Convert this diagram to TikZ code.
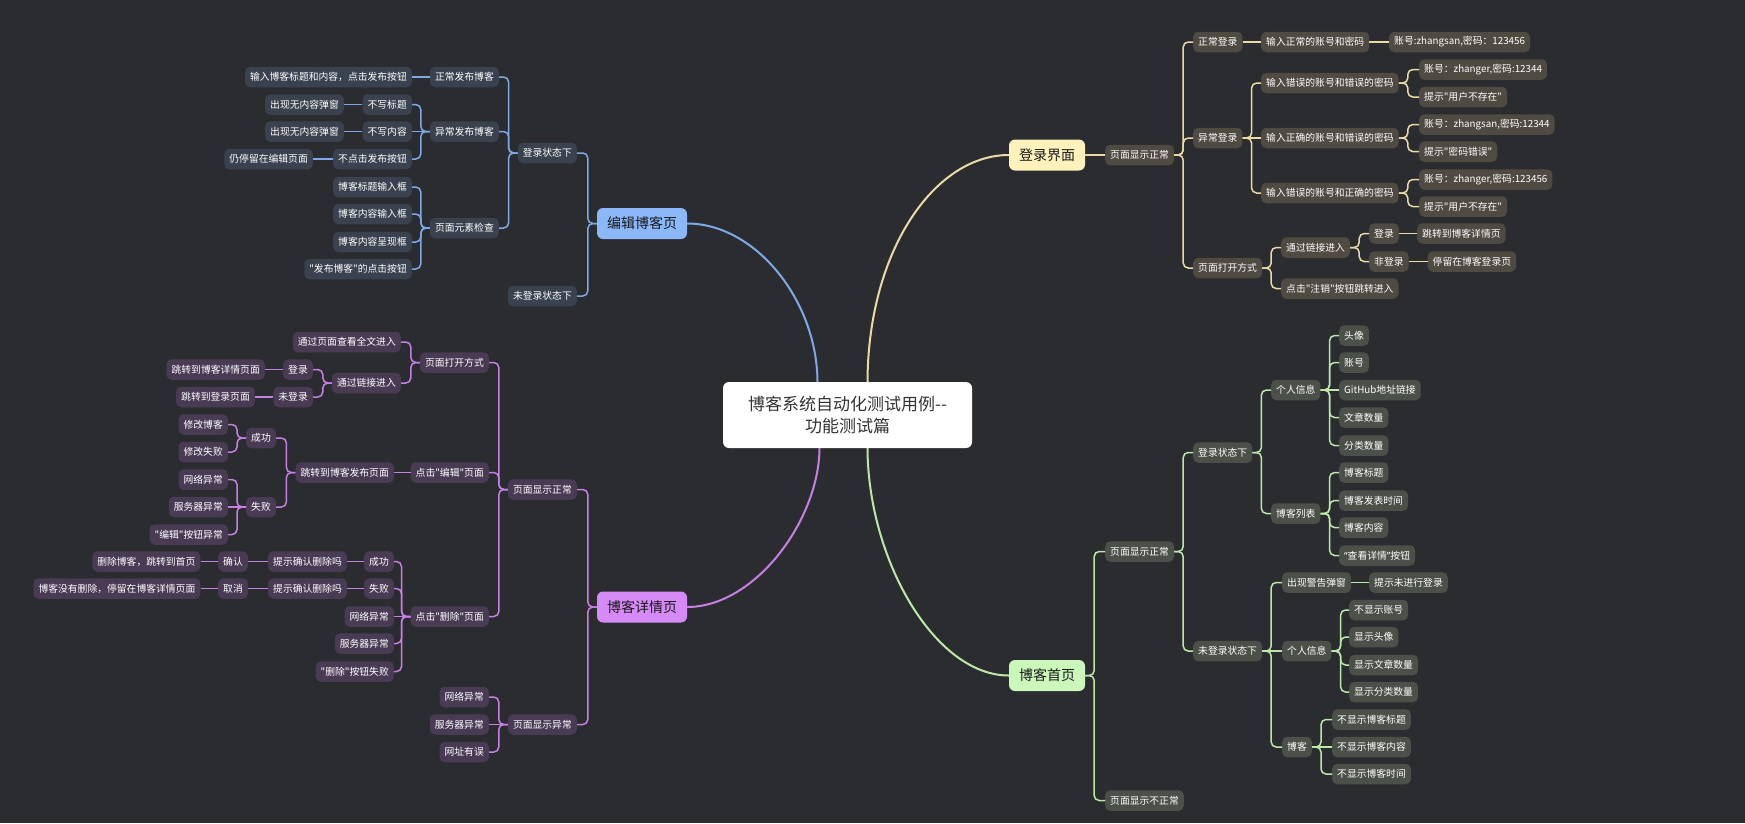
\documentclass[tikz,border=0pt]{standalone}
\usepackage{fontspec}
\setmainfont{Noto Sans CJK SC}[Ligatures=TeXOff]
\newfontfamily\quotefont{Noto Sans}[Ligatures=TeXOff]
\usepackage{xcolor}
\usetikzlibrary{positioning, calc}

\definecolor{bgc}{HTML}{2B2C30}
\definecolor{eMainC}{HTML}{8AB8F8}
\definecolor{eSubC}{HTML}{3A4250}
\definecolor{eLineC}{HTML}{7DA9E8}
\definecolor{lMainC}{HTML}{FFF1BC}
\definecolor{lSubC}{HTML}{4F4A42}
\definecolor{lLineC}{HTML}{EADBA6}
\definecolor{dMainC}{HTML}{D68AF5}
\definecolor{dSubC}{HTML}{4A3B55}
\definecolor{dLineC}{HTML}{C77FE6}
\definecolor{hMainC}{HTML}{CCF7BA}
\definecolor{hSubC}{HTML}{4B5148}
\definecolor{hLineC}{HTML}{BCE8A8}

\begin{document}
\begin{tikzpicture}[x=1pt, y=-1pt,
      root/.style={fill=white, rounded corners=6pt, align=center, text=black!80, font=\fontsize{17}{22}\selectfont, minimum width=249pt, minimum height=66pt},
      main/.style={rounded corners=6pt, text=black!90, font=\fontsize{14}{16}\selectfont, inner xsep=10pt, minimum height=31pt},
      sub/.style={rounded corners=5pt, text=white, font=\fontsize{9.8}{11}\selectfont, inner xsep=5pt, inner ysep=0pt, minimum height=20.5pt},
      esub/.style={sub, fill=eSubC}, lsub/.style={sub, fill=lSubC},
      dsub/.style={sub, fill=dSubC}, hsub/.style={sub, fill=hSubC},
      link/.style={line width=1.5pt, rounded corners=5pt},
      trunk/.style={line width=2pt}
    ]
      \useasboundingbox[fill=bgc] (0,0) rectangle (1745,823);

      \node[root] (root) at (847.5,415) {博客系统自动化测试用例--\\功能测试篇};

      % edit page
      \node[main, fill=eMainC] (eMain) at (642,223.5) {编辑博客页};
      \node[esub, anchor=east] (eIn) at (577,153) {登录状态下};
      \node[esub, anchor=east] (eOut) at (577,296) {未登录状态下};
      \node[esub, anchor=east] (eNorm) at (499,77) {正常发布博客};
      \node[esub, anchor=east] (eAbn) at (499,131.5) {异常发布博客};
      \node[esub, anchor=east] (eChk) at (499,228) {页面元素检查};
      \node[esub, anchor=east] (eNormA) at (412,77) {输入博客标题和内容，点击发布按钮};
      \node[esub, anchor=east] (eNoT) at (412,104.5) {不写标题};
      \node[esub, anchor=east] (eNoC) at (412,131.5) {不写内容};
      \node[esub, anchor=east] (eNoP) at (412,159) {不点击发布按钮};
      \node[esub, anchor=east] (eNoTA) at (344,104.5) {出现无内容弹窗};
      \node[esub, anchor=east] (eNoCA) at (344,131.5) {出现无内容弹窗};
      \node[esub, anchor=east] (eNoPA) at (313,159) {仍停留在编辑页面};
      \node[esub, anchor=east] (eBox1) at (412,187) {博客标题输入框};
      \node[esub, anchor=east] (eBox2) at (412,214) {博客内容输入框};
      \node[esub, anchor=east] (eBox3) at (412,242) {博客内容呈现框};
      \node[esub, anchor=east] (eBox4) at (412,269) {"发布博客"的点击按钮};

      % login page
      \node[main, fill=lMainC] (lMain) at (1047,155) {登录界面};
      \node[lsub, anchor=west] (lShow) at (1105,155) {页面显示正常};
      \node[lsub, anchor=west] (lNorm) at (1193,42) {正常登录};
      \node[lsub, anchor=west] (lAbn) at (1193,138) {异常登录};
      \node[lsub, anchor=west] (lOpen) at (1193,268) {页面打开方式};
      \node[lsub, anchor=west] (lNormA) at (1261,42) {输入正常的账号和密码};
      \node[lsub, anchor=west] (lNormB) at (1389,42) {账号:zhangsan,密码：123456};
      \node[lsub, anchor=west] (lAbn1) at (1261,83) {输入错误的账号和错误的密码};
      \node[lsub, anchor=west] (lAbn2) at (1261,138) {输入正确的账号和错误的密码};
      \node[lsub, anchor=west] (lAbn3) at (1261,193) {输入错误的账号和正确的密码};
      \node[lsub, anchor=west] (lAbn1a) at (1419,69.5) {账号：zhanger,密码:12344};
      \node[lsub, anchor=west] (lAbn1b) at (1419,97) {提示"用户不存在"};
      \node[lsub, anchor=west] (lAbn2a) at (1419,124.5) {账号：zhangsan,密码:12344};
      \node[lsub, anchor=west] (lAbn2b) at (1419,151.5) {提示"密码错误"};
      \node[lsub, anchor=west] (lAbn3a) at (1419,179.5) {账号：zhanger,密码:123456};
      \node[lsub, anchor=west] (lAbn3b) at (1419,206.5) {提示"用户不存在"};
      \node[lsub, anchor=west] (lLink) at (1281,247.5) {通过链接进入};
      \node[lsub, anchor=west] (lQuit) at (1281,288.5) {点击"注销"按钮跳转进入};
      \node[lsub, anchor=west] (lLinkIn) at (1369,233.5) {登录};
      \node[lsub, anchor=west] (lLinkOut) at (1369,261.5) {非登录};
      \node[lsub, anchor=west] (lLinkInA) at (1417,233.5) {跳转到博客详情页};
      \node[lsub, anchor=west] (lLinkOutA) at (1427.5,261.5) {停留在博客登录页};

      % detail page
      \node[main, fill=dMainC] (dMain) at (642,607) {博客详情页};
      \node[dsub, anchor=east] (dShow) at (577,489.5) {页面显示正常};
      \node[dsub, anchor=east] (dErr) at (577,724.5) {页面显示异常};
      \node[dsub, anchor=east] (dOpen) at (489,362.5) {页面打开方式};
      \node[dsub, anchor=east] (dEdit) at (489,472.5) {点击"编辑"页面};
      \node[dsub, anchor=east] (dDel) at (489,616.5) {点击"删除"页面};
      \node[dsub, anchor=east] (dFull) at (401,342) {通过页面查看全文进入};
      \node[dsub, anchor=east] (dLink) at (401,383) {通过链接进入};
      \node[dsub, anchor=east] (dLinkIn) at (313,369.5) {登录};
      \node[dsub, anchor=east] (dLinkOut) at (313,397) {未登录};
      \node[dsub, anchor=east] (dLinkInA) at (265,369.5) {跳转到博客详情页面};
      \node[dsub, anchor=east] (dLinkOutA) at (255,397) {跳转到登录页面};
      \node[dsub, anchor=east] (dGo) at (394,472.5) {跳转到博客发布页面};
      \node[dsub, anchor=east] (dGoOk) at (276,438) {成功};
      \node[dsub, anchor=east] (dGoNo) at (276,507) {失败};
      \node[dsub, anchor=east] (dGoOk1) at (228,424.5) {修改博客};
      \node[dsub, anchor=east] (dGoOk2) at (228,452) {修改失败};
      \node[dsub, anchor=east] (dGoNo1) at (228,479.5) {网络异常};
      \node[dsub, anchor=east] (dGoNo2) at (228,507) {服务器异常};
      \node[dsub, anchor=east] (dGoNo3) at (228,534.5) {"编辑"按钮异常};
      \node[dsub, anchor=east] (dDelOk) at (394,561.5) {成功};
      \node[dsub, anchor=east] (dDelNo) at (394,588.5) {失败};
      \node[dsub, anchor=east] (dDelNet) at (394,616.5) {网络异常};
      \node[dsub, anchor=east] (dDelSrv) at (394,643.5) {服务器异常};
      \node[dsub, anchor=east] (dDelBtn) at (394,671.5) {"删除"按钮失败};
      \node[dsub, anchor=east] (dDelOkA) at (347,561.5) {提示确认删除吗};
      \node[dsub, anchor=east] (dDelNoA) at (347,588.5) {提示确认删除吗};
      \node[dsub, anchor=east] (dDelOkB) at (248,561.5) {确认};
      \node[dsub, anchor=east] (dDelNoB) at (248,588.5) {取消};
      \node[dsub, anchor=east] (dDelOkC) at (200.5,561.5) {删除博客，跳转到首页};
      \node[dsub, anchor=east] (dDelNoC) at (200.5,588.5) {博客没有删除，停留在博客详情页面};
      \node[dsub, anchor=east] (dErr1) at (489,697) {网络异常};
      \node[dsub, anchor=east] (dErr2) at (489,724.5) {服务器异常};
      \node[dsub, anchor=east] (dErr3) at (489,752) {网址有误};

      % home page
      \node[main, fill=hMainC] (hMain) at (1047,675.5) {博客首页};
      \node[hsub, anchor=west] (hShow) at (1105,551.5) {页面显示正常};
      \node[hsub, anchor=west] (hBad) at (1105,800.5) {页面显示不正常};
      \node[hsub, anchor=west] (hIn) at (1193,452.5) {登录状态下};
      \node[hsub, anchor=west] (hOut) at (1193,651) {未登录状态下};
      \node[hsub, anchor=west] (hInfo) at (1271,390) {个人信息};
      \node[hsub, anchor=west] (hList) at (1271,513.5) {博客列表};
      \foreach \t/\y [count=\i] in {头像/335.5, 账号/362.5, GitHub地址链接/390, 文章数量/417.5, 分类数量/445.5}
        \node[hsub, anchor=west] (hInfo\i) at (1339,\y) {\t};
      \foreach \t/\y [count=\i] in {博客标题/472.5, 博客发表时间/500.5, 博客内容/527.5, {{\quotefont “}查看详情{\quotefont ”}按钮}/555.5}
        \node[hsub, anchor=west] (hList\i) at (1339,\y) {\t};
      \node[hsub, anchor=west] (hWarn) at (1282,582.5) {出现警告弹窗};
      \node[hsub, anchor=west] (hWarnA) at (1369,582.5) {提示未进行登录};
      \node[hsub, anchor=west] (hOInfo) at (1282,651) {个人信息};
      \foreach \t/\y [count=\i] in {不显示账号/610, 显示头像/637, 显示文章数量/665, 显示分类数量/692}
        \node[hsub, anchor=west] (hOInfo\i) at (1349,\y) {\t};
      \node[hsub, anchor=west] (hOBlog) at (1282,747) {博客};
      \foreach \t/\y [count=\i] in {不显示博客标题/719.5, 不显示博客内容/747, 不显示博客时间/774}
        \node[hsub, anchor=west] (hOBlog\i) at (1332,\y) {\t};

      % root curves
      \draw[trunk, eLineC] (eMain.east) .. controls (755,223.5) and (817,300) .. ([xshift=-30pt]root.north);
      \draw[trunk, lLineC] (lMain.west) .. controls (935,155) and (868,250) .. ([xshift=20pt]root.north);
      \draw[trunk, dLineC] (dMain.east) .. controls (755,607) and (819,520) .. ([xshift=-28pt]root.south);
      \draw[trunk, hLineC] (hMain.west) .. controls (935,675.5) and (868,560) .. ([xshift=20pt]root.south);

      % elbows, left side
      \foreach \p/\c in {eMain/eIn, eMain/eOut, eIn/eNorm, eIn/eAbn, eIn/eChk, eAbn/eNoT, eAbn/eNoP,
          eChk/eBox1, eChk/eBox2, eChk/eBox3, eChk/eBox4}
        \draw[link, eLineC] (\p.west) -- ++(-9,0) |- (\c.east);
      \foreach \p/\c in {eAbn/eNoC, eNorm/eNormA, eNoT/eNoTA, eNoC/eNoCA, eNoP/eNoPA}
        \draw[link, eLineC] (\p.west) -- (\c.east);
      \foreach \p/\c in {dMain/dShow, dMain/dErr, dShow/dOpen, dShow/dEdit, dShow/dDel, dOpen/dFull, dOpen/dLink,
          dLink/dLinkIn, dLink/dLinkOut, dGo/dGoOk, dGo/dGoNo, dGoOk/dGoOk1, dGoOk/dGoOk2, dGoNo/dGoNo1, dGoNo/dGoNo3,
          dDel/dDelOk, dDel/dDelNo, dDel/dDelSrv, dDel/dDelBtn, dErr/dErr1, dErr/dErr3}
        \draw[link, dLineC] (\p.west) -- ++(-9,0) |- (\c.east);
      \foreach \p/\c in {dEdit/dGo, dGoNo/dGoNo2, dDel/dDelNet, dErr/dErr2, dLinkIn/dLinkInA, dLinkOut/dLinkOutA,
          dDelOk/dDelOkA, dDelOkA/dDelOkB, dDelOkB/dDelOkC, dDelNo/dDelNoA, dDelNoA/dDelNoB, dDelNoB/dDelNoC}
        \draw[link, dLineC] (\p.west) -- (\c.east);

      % elbows, right side
      \foreach \p/\c in {lShow/lNorm, lShow/lAbn, lShow/lOpen, lAbn/lAbn1, lAbn/lAbn3, lAbn1/lAbn1a, lAbn1/lAbn1b,
          lAbn2/lAbn2a, lAbn2/lAbn2b, lAbn3/lAbn3a, lAbn3/lAbn3b, lOpen/lLink, lOpen/lQuit, lLink/lLinkIn, lLink/lLinkOut}
        \draw[link, lLineC] (\p.east) -- ++(9,0) |- (\c.west);
      \foreach \p/\c in {lMain/lShow, lAbn/lAbn2, lNorm/lNormA, lNormA/lNormB, lLinkIn/lLinkInA, lLinkOut/lLinkOutA}
        \draw[link, lLineC] (\p.east) -- (\c.west);
      \foreach \p/\c in {hMain/hShow, hMain/hBad, hShow/hIn, hShow/hOut, hIn/hInfo, hIn/hList,
          hInfo/hInfo1, hInfo/hInfo2, hInfo/hInfo4, hInfo/hInfo5, hList/hList1, hList/hList2, hList/hList3, hList/hList4,
          hOut/hWarn, hOut/hOBlog, hOInfo/hOInfo1, hOInfo/hOInfo2, hOInfo/hOInfo3, hOInfo/hOInfo4, hOBlog/hOBlog1, hOBlog/hOBlog3}
        \draw[link, hLineC] (\p.east) -- ++(9,0) |- (\c.west);
      \foreach \p/\c in {hInfo/hInfo3, hOut/hOInfo, hWarn/hWarnA, hOBlog/hOBlog2}
        \draw[link, hLineC] (\p.east) -- (\c.west);
    \end{tikzpicture}
\end{document}
